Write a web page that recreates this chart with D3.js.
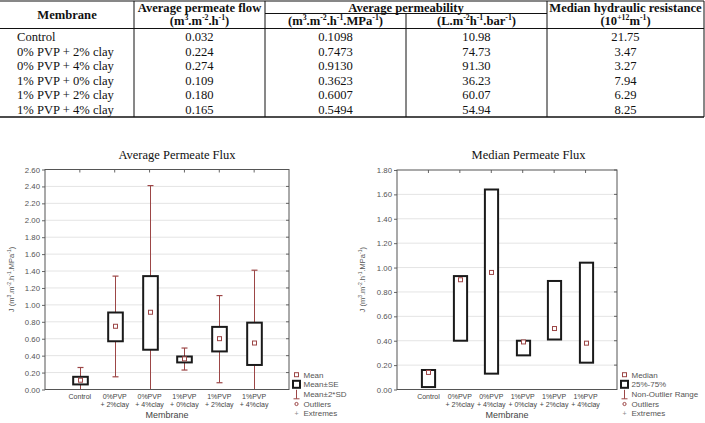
<!DOCTYPE html>
<html>
<head>
<meta charset="utf-8">
<script src="https://cdn.jsdelivr.net/npm/d3@7"></script>
<style>
  body { margin: 0; background: #fff; }
</style>
</head>
<body>
<script>
var width = 705, height = 423;

// ---- table data ----
var tableMembranes = ["Control", "0% PVP + 2% clay", "0% PVP + 4% clay", "1% PVP + 0% clay", "1% PVP + 2% clay", "1% PVP + 4% clay"];
var avgFlow = ["0.032", "0.224", "0.274", "0.109", "0.180", "0.165"];
var permMPa = ["0.1098", "0.7473", "0.9130", "0.3623", "0.6007", "0.5494"];
var permBar = ["10.98", "74.73", "91.30", "36.23", "60.07", "54.94"];
var resistance = ["21.75", "3.47", "3.27", "7.94", "6.29", "8.25"];

// ---- chart data ----
var catLine1 = ["Control", "0%PVP", "0%PVP", "1%PVP", "1%PVP", "1%PVP"];
var catLine2 = ["", "+ 2%clay", "+ 4%clay", "+ 0%clay", "+ 2%clay", "+ 4%clay"];

// average permeate flux: mean, mean±SE, mean±2*SD
var means = [0.1098, 0.7473, 0.9130, 0.3623, 0.6007, 0.5494];
var seLow = [0.06, 0.57, 0.47, 0.32, 0.45, 0.29];
var seHigh = [0.15, 0.91, 1.34, 0.39, 0.74, 0.79];
var sdLow = [0, 0.15, 0, 0.23, 0.08, 0];
var sdHigh = [0.26, 1.34, 2.41, 0.49, 1.11, 1.41];

// median permeate flux: median, 25%-75%
var medians = [0.14, 0.90, 0.96, 0.39, 0.50, 0.38];
var q1 = [0.02, 0.40, 0.13, 0.28, 0.41, 0.22];
var q3 = [0.16, 0.93, 1.64, 0.40, 0.89, 1.04];

var leftLegend = ["Mean", "Mean\u00b1SE", "Mean\u00b12*SD", "Outliers", "Extremes"];
var rightLegend = ["Median", "25%-75%", "Non-Outlier Range", "Outliers", "Extremes"];

var svg = d3.select("body")
    .append("svg")
    .attr("width", width)
    .attr("height", height);

var serif = "'Liberation Serif', 'Times New Roman', serif";
var sans = "'Liberation Sans', Arial, sans-serif";
var redCol = "#9c4646";

// text with ^{..} superscripts
function richText(g, str, x, y, size, weight) {
    var t = g.append("text")
        .attr("x", x).attr("y", y)
        .attr("text-anchor", "middle")
        .attr("font-family", serif)
        .attr("font-size", size)
        .attr("font-weight", weight || "normal")
        .attr("fill", "#111");
    var parts = str.split(/\^\{|\}/);
    var shift = size * 0.38;
    for (var i = 0; i < parts.length; i++) {
        if (parts[i] === "") { continue; }
        var sp = t.append("tspan").text(parts[i]);
        if (i % 2 == 1) {
            sp.attr("font-size", size * 0.62).attr("dy", -shift);
        } else if (i > 0) {
            sp.attr("dy", shift);
        }
    }
    return t;
}

// ---------------- TABLE ----------------
var tbl = svg.append("g");
var colX = [134, 265, 406, 547, 704];
var rowY = d3.scaleLinear().domain([0, 5]).range([41.3, 113.8]);
var fs = 12.6;

tbl.append("line").attr("x1", 0).attr("x2", 704).attr("y1", 1).attr("y2", 1).attr("stroke", "#111").attr("stroke-width", 1.2);
tbl.append("line").attr("x1", 0).attr("x2", 704).attr("y1", 28.5).attr("y2", 28.5).attr("stroke", "#111").attr("stroke-width", 1.2);
tbl.append("line").attr("x1", 0).attr("x2", 704).attr("y1", 117).attr("y2", 117).attr("stroke", "#111").attr("stroke-width", 1.5);
tbl.append("line").attr("x1", 265).attr("x2", 547).attr("y1", 13.5).attr("y2", 13.5).attr("stroke", "#111").attr("stroke-width", 1);
[134, 265, 547, 704].forEach(function(x) {
    tbl.append("line").attr("x1", x).attr("x2", x).attr("y1", 1).attr("y2", 117).attr("stroke", "#111").attr("stroke-width", 1);
});
tbl.append("line").attr("x1", 406).attr("x2", 406).attr("y1", 13.5).attr("y2", 117).attr("stroke", "#111").attr("stroke-width", 1);

richText(tbl, "Membrane", 67, 18.5, fs, "bold");
richText(tbl, "Average permeate flow", 199.5, 11.5, fs, "bold");
richText(tbl, "(m^{3}.m^{-2}.h^{-1})", 199.5, 25, fs, "bold");
richText(tbl, "Average permeability", 406, 11.5, fs, "bold");
richText(tbl, "(m^{3}.m^{-2}.h^{-1}.MPa^{-1})", 335.5, 25, fs, "bold");
richText(tbl, "(L.m^{-2}h^{-1}.bar^{-1})", 476.5, 25, fs, "bold");
richText(tbl, "Median hydraulic resistance", 625.5, 11.5, fs, "bold");
richText(tbl, "(10^{+12}m^{-1})", 625.5, 25, fs, "bold");

var cols = [avgFlow, permMPa, permBar, resistance];
tableMembranes.forEach(function(m, i) {
    tbl.append("text")
        .attr("x", 17).attr("y", rowY(i))
        .attr("font-family", serif).attr("font-size", fs).attr("fill", "#111")
        .text(m);
    cols.forEach(function(c, j) {
        tbl.append("text")
            .attr("x", (colX[j] + colX[j + 1]) / 2).attr("y", rowY(i))
            .attr("text-anchor", "middle")
            .attr("font-family", serif).attr("font-size", fs).attr("fill", "#111")
            .text(c[i]);
    });
});

// ---------------- PANELS ----------------
function drawPanel(p) {
    var g = svg.append("g");
    var x = d3.scaleLinear().domain([0, 7]).range([p.x0, p.x1]);
    var y = d3.scaleLinear().domain([0, p.yMax]).range([p.y1, p.y0]);
    var ticks = d3.range(0, Math.round(p.yMax / 0.2) + 1).map(function(i) { return i * 0.2; });
    var step = x(1) - x(0);
    var bw = step * 0.42;
    // snap whisker x to pixel centre so the thin line stays red
    var cx = function(i) { return Math.round(x(i + 1)) + 0.5; };

    g.append("text")
        .attr("x", p.titleX).attr("y", 159)
        .attr("text-anchor", "middle")
        .attr("font-family", serif).attr("font-size", 12.5).attr("fill", "#111")
        .text(p.title);

    // grid
    g.append("g").selectAll("line").data(ticks.slice(1, -1)).enter().append("line")
        .attr("x1", p.x0).attr("x2", p.x1)
        .attr("y1", function(d) { return y(d); }).attr("y2", function(d) { return y(d); })
        .attr("stroke", "#e4e4e4").attr("stroke-width", 1);

    // y axis
    var ya = g.append("g")
        .attr("transform", "translate(" + p.x0 + ",0)")
        .call(d3.axisLeft(y).tickValues(ticks).tickFormat(d3.format(".2f")).tickSize(3).tickPadding(2));
    ya.select(".domain").remove();
    ya.selectAll("line").attr("stroke", "#666");
    ya.selectAll("text").attr("font-family", sans).attr("font-size", 7.8).attr("fill", "#555");

    // right ticks inward
    g.append("g").selectAll("line").data(ticks).enter().append("line")
        .attr("x1", p.x1 - 3).attr("x2", p.x1)
        .attr("y1", function(d) { return y(d); }).attr("y2", function(d) { return y(d); })
        .attr("stroke", "#666");
    // top ticks inward
    g.append("g").selectAll("line").data(d3.range(1, 7)).enter().append("line")
        .attr("x1", function(d) { return x(d); }).attr("x2", function(d) { return x(d); })
        .attr("y1", p.y0).attr("y2", p.y0 + 3)
        .attr("stroke", "#666");

    // y title
    var yt = g.append("text")
        .attr("transform", "translate(" + p.yTitleX + "," + ((p.y0 + p.y1) / 2) + ") rotate(-90)")
        .attr("text-anchor", "middle")
        .attr("font-family", sans).attr("font-size", 7.5).attr("fill", "#555");
    var parts = "J (m^{3}.m^{-2}.h^{-1}.MPa^{-1})".split(/\^\{|\}/);
    parts.forEach(function(s, i) {
        if (s === "") return;
        var sp = yt.append("tspan").text(s);
        if (i % 2 == 1) sp.attr("font-size", 5).attr("dy", -3);
        else if (i > 0) sp.attr("dy", 3);
    });

    // whiskers
    if (p.wLow) {
        var wg = g.append("g").selectAll("g").data(d3.range(6)).enter().append("g");
        wg.append("line")
            .attr("x1", cx).attr("x2", cx)
            .attr("y1", function(i) { return y(p.wLow[i]); }).attr("y2", function(i) { return y(p.wHigh[i]); })
            .attr("stroke", redCol).attr("stroke-width", 1);
        wg.append("line")
            .attr("x1", function(i) { return cx(i) - 3; }).attr("x2", function(i) { return cx(i) + 3; })
            .attr("y1", function(i) { return y(p.wHigh[i]); }).attr("y2", function(i) { return y(p.wHigh[i]); })
            .attr("stroke", redCol).attr("stroke-width", 1.2);
        wg.filter(function(i) { return p.wLow[i] > 0; }).append("line")
            .attr("x1", function(i) { return cx(i) - 3; }).attr("x2", function(i) { return cx(i) + 3; })
            .attr("y1", function(i) { return y(p.wLow[i]); }).attr("y2", function(i) { return y(p.wLow[i]); })
            .attr("stroke", redCol).attr("stroke-width", 1.2);
    }

    // boxes
    g.append("g").selectAll("rect").data(d3.range(6)).enter().append("rect")
        .attr("x", function(i) { return cx(i) - bw / 2; })
        .attr("width", bw)
        .attr("y", function(i) { return y(p.boxHigh[i]); })
        .attr("height", function(i) { return y(p.boxLow[i]) - y(p.boxHigh[i]); })
        .attr("fill", "#fff").attr("stroke", "#1a1a1a").attr("stroke-width", 2);

    // centre markers
    g.append("g").selectAll("rect").data(d3.range(6)).enter().append("rect")
        .attr("x", function(i) { return cx(i) - 2; })
        .attr("y", function(i) { return y(p.center[i]) - 2; })
        .attr("width", 4).attr("height", 4)
        .attr("fill", "#fff").attr("stroke", redCol).attr("stroke-width", 1);

    // frame
    g.append("rect")
        .attr("x", p.x0).attr("y", p.y0)
        .attr("width", p.x1 - p.x0).attr("height", p.y1 - p.y0)
        .attr("fill", "none").attr("stroke", "#555").attr("stroke-width", 1);

    // x labels
    var xl = g.append("g").selectAll("text").data(d3.range(6)).enter().append("text")
        .attr("text-anchor", "middle")
        .attr("font-family", sans).attr("font-size", 7).attr("fill", "#444");
    xl.append("tspan")
        .attr("x", function(i) { return x(i + 1); }).attr("y", 398.5)
        .text(function(i) { return catLine1[i]; });
    xl.append("tspan")
        .attr("x", function(i) { return x(i + 1); }).attr("y", 407)
        .text(function(i) { return catLine2[i]; });

    g.append("text")
        .attr("x", (p.x0 + p.x1) / 2).attr("y", 417.5)
        .attr("text-anchor", "middle")
        .attr("font-family", sans).attr("font-size", 9).attr("fill", "#444")
        .text("Membrane");

    // legend
    var lx = p.legendX, rowsY = [374.7, 384.3, 394.3, 404, 413.5];
    g.append("rect").attr("x", lx - 2).attr("y", rowsY[0] - 2).attr("width", 4).attr("height", 4)
        .attr("fill", "#fff").attr("stroke", redCol);
    g.append("rect").attr("x", lx - 3.5).attr("y", rowsY[1] - 3.5).attr("width", 7).attr("height", 7)
        .attr("fill", "#fff").attr("stroke", "#1a1a1a").attr("stroke-width", 2);
    g.append("line").attr("x1", lx).attr("x2", lx).attr("y1", rowsY[2] - 4.5).attr("y2", rowsY[2] + 4.5).attr("stroke", redCol);
    g.append("line").attr("x1", lx - 3).attr("x2", lx + 3).attr("y1", rowsY[2] + 4.5).attr("y2", rowsY[2] + 4.5).attr("stroke", redCol);
    g.append("circle").attr("cx", lx).attr("cy", rowsY[3]).attr("r", 1.6)
        .attr("fill", "none").attr("stroke", redCol);
    g.append("text").attr("x", lx).attr("y", rowsY[4] + 2.5).attr("text-anchor", "middle")
        .attr("font-family", sans).attr("font-size", 7).attr("fill", "#888").text("+");
    g.append("g").selectAll("text").data(p.legend).enter().append("text")
        .attr("x", lx + 7).attr("y", function(d, i) { return rowsY[i] + 2.9; })
        .attr("font-family", sans).attr("font-size", 8).attr("fill", "#555")
        .text(function(d) { return d; });
}

drawPanel({
    x0: 45, x1: 289, y0: 169.5, y1: 389.5, yMax: 2.6,
    title: "Average Permeate Flux", titleX: 177, yTitleX: 14,
    center: means, boxLow: seLow, boxHigh: seHigh, wLow: sdLow, wHigh: sdHigh,
    legendX: 296.5, legend: leftLegend
});

drawPanel({
    x0: 397, x1: 617, y0: 170, y1: 389.5, yMax: 1.8,
    title: "Median Permeate Flux", titleX: 528.5, yTitleX: 365,
    center: medians, boxLow: q1, boxHigh: q3,
    legendX: 624.5, legend: rightLegend
});
</script>
</body>
</html>
